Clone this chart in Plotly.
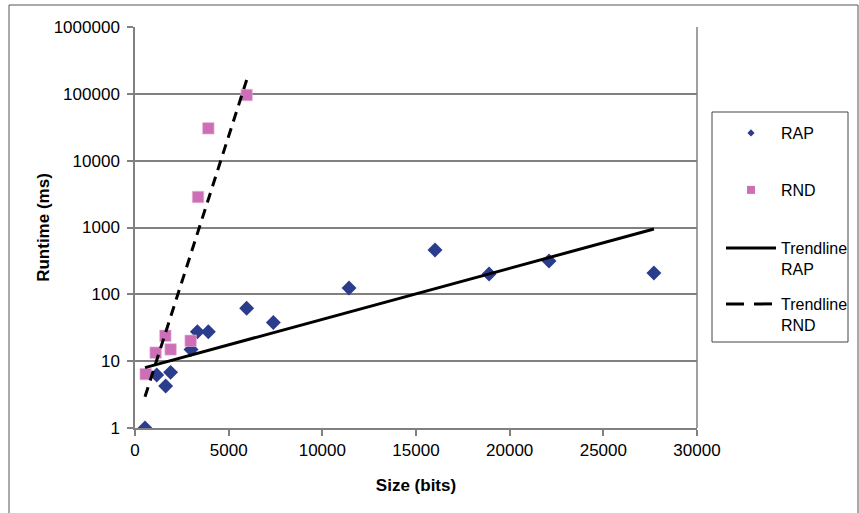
import plotly.graph_objects as go

# Measured runtimes (ms) versus input size (bits)
rap_size = [534, 1160, 1637, 1900, 2990, 3330, 3915, 5960, 7385, 11425, 16015, 18900, 22100, 27700]
rap_runtime = [1.0, 6.2, 4.25, 6.8, 15, 27.6, 27.6, 62, 38, 124, 461, 202, 315, 208]

rnd_size = [570, 1100, 1620, 1900, 2970, 3365, 3915, 5960]
rnd_runtime = [6.4, 13.4, 24, 15, 20.2, 2860, 30500, 96000]

# Exponential trendlines (straight on a log axis): end points
trend_rap_size = [534, 27700]
trend_rap_runtime = [8.0, 950]
trend_rnd_size = [534, 5960]
trend_rnd_runtime = [2.94, 161000]

x_ticks = [0, 5000, 10000, 15000, 20000, 25000, 30000]
y_ticks = [1, 10, 100, 1000, 10000, 100000, 1000000]

FONT = "Liberation Sans, Arial, sans-serif"
BLUE = "#2B3C8C"
PINK = "#CC6FB6"

# plot area: x 135..697, y 27..428 (px)
L, R, T, B = 135, 697, 27, 428
W, H = 859, 513
pw, ph = R - L, B - T


def px_x(p):
    return (p - L) / pw


def px_y(p):
    return (B - p) / ph


fig = go.Figure()

# data marks
fig.add_trace(go.Scatter(
    x=rap_size, y=rap_runtime, mode="markers", name="RAP", showlegend=False,
    marker=dict(symbol="diamond", size=11.5, color=BLUE, line=dict(width=0)),
))
fig.add_trace(go.Scatter(
    x=rnd_size, y=rnd_runtime, mode="markers", name="RND", showlegend=False,
    marker=dict(symbol="square", size=11.5, color=PINK, line=dict(width=0.6, color="#E9B8DC")),
))
fig.add_trace(go.Scatter(
    x=trend_rap_size, y=trend_rap_runtime, mode="lines", name="Trendline<br>RAP", showlegend=False,
    line=dict(color="black", width=3),
))
fig.add_trace(go.Scatter(
    x=trend_rnd_size, y=trend_rnd_runtime, mode="lines", name="Trendline<br>RND", showlegend=False,
    line=dict(color="black", width=3, dash="10px,7px"),
))

# legend entries (smaller symbols than the plotted marks)
fig.add_trace(go.Scatter(
    x=[None], y=[None], mode="markers", name="RAP", legend="legend",
    marker=dict(symbol="diamond", size=5.5, color=BLUE),
))
fig.add_trace(go.Scatter(
    x=[None], y=[None], mode="markers", name="RND", legend="legend2",
    marker=dict(symbol="square", size=8, color=PINK),
))
fig.add_trace(go.Scatter(
    x=[None], y=[None], mode="lines", name="Trendline<br>RAP", legend="legend3",
    line=dict(color="black", width=3),
))
fig.add_trace(go.Scatter(
    x=[None], y=[None], mode="lines", name="Trendline<br>RND", legend="legend4",
    line=dict(color="black", width=3, dash="18px,10px"),
))

shapes = [
    # outer chart frame
    dict(type="rect", xref="paper", yref="paper",
         x0=px_x(9), x1=px_x(858), y0=px_y(540), y1=px_y(5),
         line=dict(color="#555555", width=1), fillcolor="rgba(0,0,0,0)", layer="below"),
    # legend frame
    dict(type="rect", xref="paper", yref="paper",
         x0=px_x(712), x1=px_x(848), y0=px_y(342), y1=px_y(112),
         line=dict(color="#444444", width=1), fillcolor="rgba(0,0,0,0)"),
    # right edge of plot area
    dict(type="line", xref="paper", yref="paper", x0=1, x1=1, y0=0, y1=1,
         line=dict(color="#808080", width=1.5)),
]


def legend_at(top_px):
    return dict(
        x=px_x(721), y=px_y(top_px), xanchor="left", yanchor="top",
        bgcolor="rgba(0,0,0,0)", borderwidth=0, valign="top",
        font=dict(family=FONT, size=16, color="black"),
        itemwidth=50,
    )


fig.update_layout(
    width=W, height=H,
    # fixed margins: the legends must not shrink the plot area
    margin=dict(l=L, r=W - R, t=T, b=H - B, autoexpand=False),
    paper_bgcolor="white", plot_bgcolor="white",
    font=dict(family=FONT, size=16, color="black"),
    showlegend=True,
    legend=legend_at(116),
    legend2=legend_at(173),
    legend3=legend_at(231),
    legend4=legend_at(287),
    shapes=shapes,
    xaxis=dict(
        range=[0, 30000], tickvals=x_ticks, ticktext=[str(v) for v in x_ticks],
        showgrid=False, zeroline=False,
        showline=True, linecolor="#808080", linewidth=1.5,
        ticks="outside", ticklen=6, tickcolor="#808080", tickwidth=1.5,
        tickfont=dict(family=FONT, size=17),
        title=dict(text="<b>Size (bits)</b>", font=dict(family=FONT, size=17), standoff=20),
    ),
    yaxis=dict(
        type="log", range=[0, 6], tickvals=y_ticks, ticktext=[str(v) for v in y_ticks],
        showgrid=True, gridcolor="#808080", gridwidth=1.5,
        zeroline=False,
        showline=True, linecolor="#808080", linewidth=1.5,
        ticks="outside", ticklen=6, tickcolor="#808080", tickwidth=1.5,
        ticklabelstandoff=4,
        tickfont=dict(family=FONT, size=17),
        title=dict(text="<b>Runtime (ms)</b>", font=dict(family=FONT, size=17), standoff=0),
    ),
)

fig.write_html("out.html")
